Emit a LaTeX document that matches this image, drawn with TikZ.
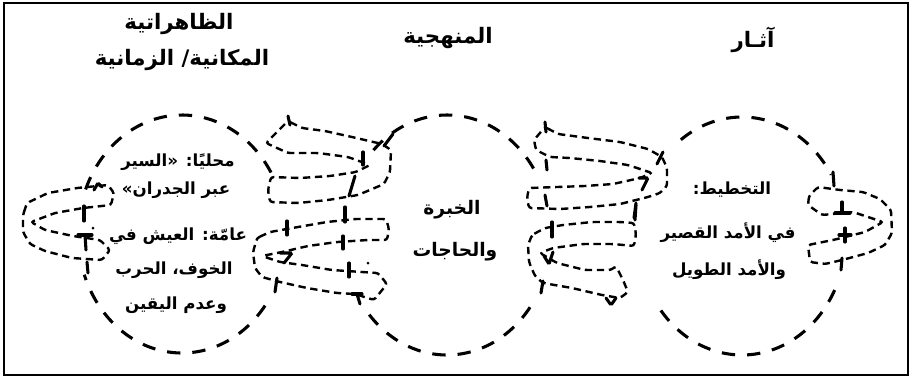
\documentclass[tikz,border=0pt]{standalone}
\usepackage{fontspec}
\newfontfamily\arabicfont[Script=Arabic]{DejaVu Sans}
\TeXXeTstate=1
\begin{document}
\begin{tikzpicture}[x=0.75pt,y=-0.75pt,
  circ/.style={line width=2.3pt, dash pattern=on 10pt off 9pt},
  coil/.style={line width=1.8pt, dash pattern=on 5.5pt off 3.5pt, rounded corners=2pt},
  tick/.style={line width=2.3pt, line cap=round, rounded corners=1pt},
  ttl/.style={font=\arabicfont\bfseries\fontsize{16}{19}\selectfont, inner sep=0pt},
  txt/.style={font=\arabicfont\bfseries\fontsize{12.5}{15}\selectfont, inner sep=0pt},
  bigtxt/.style={font=\arabicfont\bfseries\fontsize{14}{17}\selectfont, inner sep=0pt}]
\useasboundingbox (0,0) rectangle (912,380);
\fill[white] (0,0) rectangle (912,380);
\draw[line width=1.6pt] (4,3) rectangle (908,375);
% ellipses (partial, hidden behind coils)
\coordinate (cL) at (182,234);
\coordinate (cM) at (447,235);
\coordinate (cR) at (742,236);
\draw[circ] plot[domain=-158:-27, samples=60] ({182+104*cos(\x)}, {234+119*sin(\x)});
\draw[circ] plot[domain=37:160, samples=60] ({182+104*cos(\x)}, {234+119*sin(\x)});
\draw[circ] plot[domain=-135:-33, samples=60] ({447+104*cos(\x)}, {235+120*sin(\x)});
\draw[circ] plot[domain=37:141, samples=60] ({447+104*cos(\x)}, {235+120*sin(\x)});
\draw[circ] plot[domain=-126:-31, samples=60] ({742+104*cos(\x)}, {236+119*sin(\x)});
\draw[circ] plot[domain=27:147, samples=60] ({742+104*cos(\x)}, {236+119*sin(\x)});
% coil left-upper
\draw[coil] (288,121) -- (302,128) -- (325,131) -- (352,137) -- (382,144) -- (391,150) -- (390,172) -- (384,184) -- (358,195) -- (328,200) -- (298,203) -- (270,202) -- (268,190) -- (271,177) -- (300,178) -- (330,176) -- (356,172) -- (370,165) -- (348,157) -- (318,153) -- (288,153) -- (266,143) -- cycle;
\draw[tick] (288,116) -- (290,125);
\draw[tick] (393,134) -- (384,146);
\draw[tick] (363,152) -- (363,165);
\draw[tick] (355,176) -- (349,196);
% coil left-lower
\draw[coil] (257,238) -- (270,232) -- (298,227) -- (327,222) -- (355,219) -- (386,219) -- (389,229) -- (387,240) -- (368,240) -- (337,242) -- (308,246) -- (282,252) -- (262,256) -- (280,262) -- (302,265) -- (332,270) -- (362,272) -- (378,273) -- (387,284) -- (374,300) -- (355,294) -- (337,293) -- (307,288) -- (280,282) -- (262,277) -- (255,268) -- (253,252) -- cycle;
\draw[tick] (287,221) -- (287,235);
\draw[tick] (345,207) -- (345,222);
\draw[tick] (343,236) -- (343,249);
\draw[tick] (280,253) -- (292,253) -- (284,263);
\draw[tick] (349,263) -- (349,277);
\draw[tick] (277,278) -- (275,292);
\draw[tick] (352,294) -- (362,294);
\draw[tick] (357,294) -- (360,304);
\fill (368,263) circle[radius=1.5];
% coil middle-upper
\draw[coil] (545,127) -- (558,134) -- (588,138) -- (620,142) -- (648,149) -- (662,157) -- (667,168) -- (667,186) -- (660,193) -- (648,197) -- (620,204) -- (590,207) -- (560,209) -- (529,208) -- (527,198) -- (529,188) -- (557,187) -- (585,186) -- (613,184) -- (640,178) -- (652,173) -- (628,165) -- (600,161) -- (570,158) -- (550,157) -- (536,150) -- (534,140) -- cycle;
\draw[tick] (545,122) -- (546,132);
\draw[tick] (663,152) -- (657,164);
\draw[tick] (546,160) -- (547,170);
\draw[tick] (639,178) -- (648,178) -- (642,190);
\draw[tick] (545,195) -- (547,206);
\draw[tick] (636,203) -- (634,218);
% coil middle-lower
\draw[coil] (532,235) -- (545,228) -- (563,225) -- (592,222) -- (620,222) -- (634,223) -- (636,234) -- (634,246) -- (613,244) -- (583,244) -- (553,248) -- (540,253) -- (557,263) -- (585,270) -- (611,270) -- (616,266) -- (623,280) -- (628,292) -- (620,298) -- (602,295) -- (572,288) -- (543,283) -- (535,276) -- (529,262) -- (528,245) -- cycle;
\draw[tick] (552,222) -- (552,237);
\draw[tick] (636,205) -- (635,220);
\draw[tick] (544,256) -- (549,264) -- (553,252);
\draw[tick] (543,281) -- (541,293);
\draw[tick] (606,298) -- (611,305) -- (616,298);
% left loop
\draw[coil] (23,215) -- (27,203) -- (48,193) -- (77,188) -- (108,185) -- (114,193) -- (111,205) -- (83,208) -- (55,213) -- (31,222) -- (45,230) -- (73,236) -- (100,240) -- (110,250) -- (102,260) -- (72,258) -- (45,251) -- (30,244) -- (23,232) -- cycle;
\draw[tick] (94,190) -- (98,183) -- (102,187);
\draw[tick] (84,206) -- (84,221);
\draw[tick] (78,235) -- (92,235);
\draw[tick] (85,235) -- (86,250);
\draw[tick] (87,262) -- (88,273);
\fill (93,228) circle[radius=1.5];
% right loop
\draw[coil] (808,205) -- (809,196) -- (818,187) -- (840,190) -- (863,192) -- (880,199) -- (891,210) -- (892,233) -- (885,245) -- (868,253) -- (842,260) -- (825,264) -- (810,262) -- (808,245) -- (833,240) -- (865,232) -- (883,222) -- (853,212) -- (822,215) -- cycle;
\draw[tick] (833,172) -- (834,186);
\draw[tick] (842,202) -- (842,213);
\draw[tick] (835,213) -- (850,213);
\draw[tick] (845,228) -- (845,242);
\draw[tick] (839,235) -- (851,235);
\draw[tick] (842,258) -- (841,270);
% titles
\node[ttl] (t1a) at (179,24) {\beginR الظاهراتية\endR};
\node[ttl] (t1b) at (182,60) {\beginR المكانية/ الزمانية\endR};
\node[ttl] (t2) at (448,38) {\beginR المنهجية\endR};
\node[ttl] (t3) at (753,40) {\beginR آثـار\endR};
% left circle text
\node[txt] (l1) at (178,162) {\beginR محليًا: «السير\endR};
\node[txt] (l2) at (176,190) {\beginR عبر الجدران»\endR};
\node[txt] (l3) at (178,236) {\beginR عامّة: العيش في\endR};
\node[txt] (l4) at (174,270) {\beginR الخوف، الحرب\endR};
\node[txt] (l5) at (176,305) {\beginR وعدم اليقين\endR};
% middle circle text
\node[bigtxt] (m1) at (452,210) {\beginR الخبرة\endR};
\node[bigtxt] (m2) at (455,252) {\beginR والحاجات\endR};
% right circle text
\node[txt] (r1) at (732,190) {\beginR التخطيط:\endR};
\node[txt] (r2) at (728,233) {\beginR في الأمد القصير\endR};
\node[txt] (r3) at (729,270) {\beginR والأمد الطويل\endR};
\end{tikzpicture}
\end{document}
